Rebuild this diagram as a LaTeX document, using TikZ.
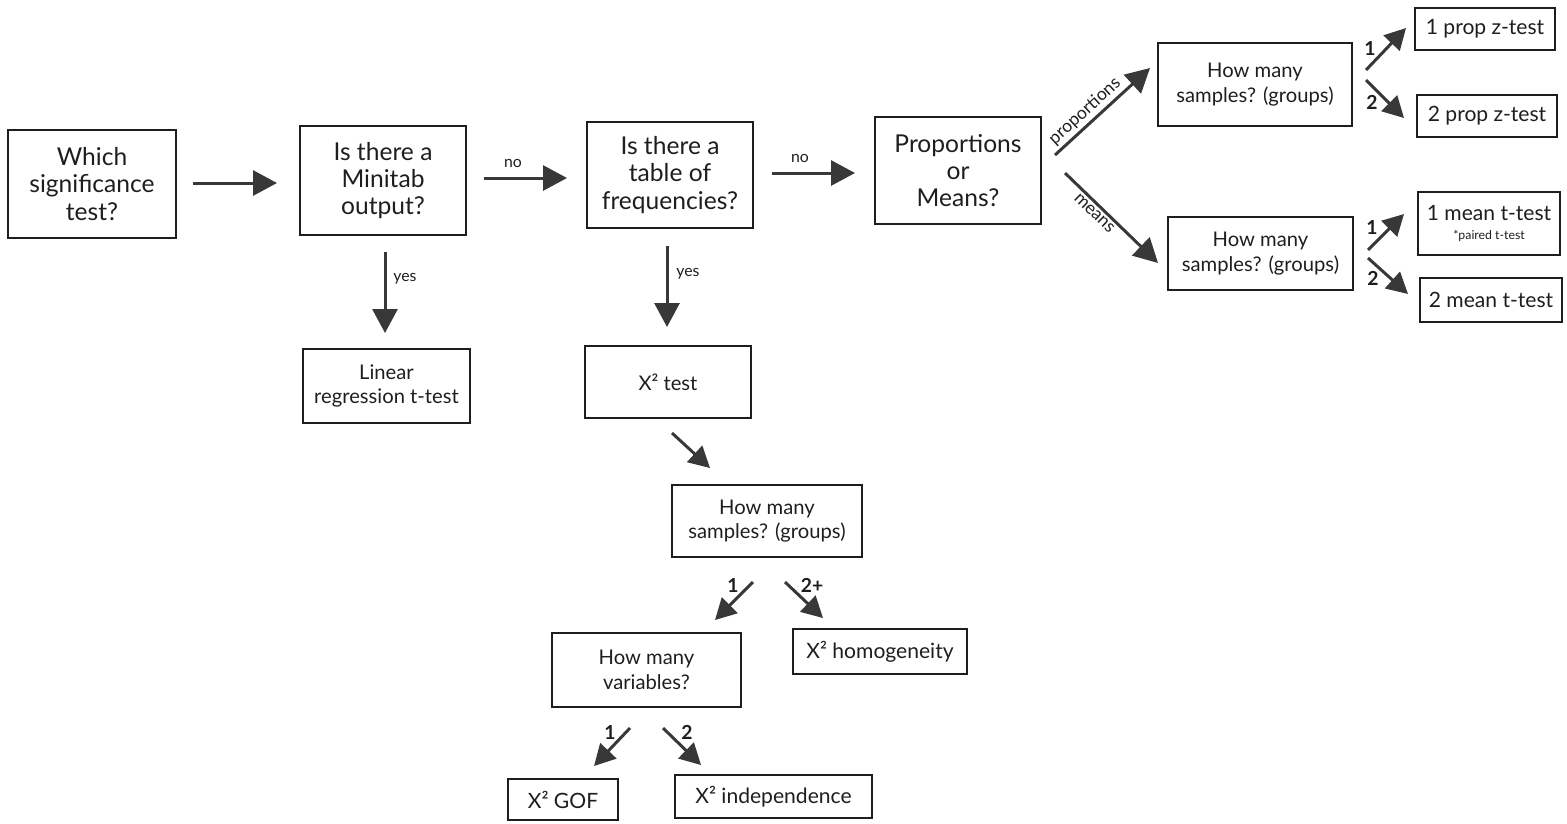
\documentclass[tikz,border=0pt]{standalone}
\usepackage{fontspec}
\setmainfont{Lato}
\usetikzlibrary{arrows.meta}
\definecolor{ink}{HTML}{1E1E1E}
\definecolor{arr}{HTML}{383838}
\begin{document}
\begin{tikzpicture}[x=0.02cm,y=-0.02cm,
  box/.style={draw=ink, line width=1.1pt, text=ink, align=center, inner sep=2pt},
  sz/.style 2 args={minimum width=#1*0.02cm, minimum height=#2*0.02cm},
  big/.style={font=\fontsize{14}{15.5}\selectfont},
  mid/.style={font=\fontsize{11.5}{14}\selectfont},
  res/.style={font=\fontsize{12}{14}\selectfont},
  arw/.style={draw=arr, line width=1.7pt, -{Triangle[length=0.48cm,width=0.5cm]}},
  darw/.style={draw=arr, line width=1.7pt, -{Triangle[length=0.42cm,width=0.44cm]}},
  lbl/.style={text=ink, font=\fontsize{9}{10}\selectfont, inner sep=1pt},
  slbl/.style={text=ink, font=\fontsize{10}{11}\selectfont, inner sep=1.5pt},
  num/.style={text=ink, font=\fontsize{11}{12}\selectfont\bfseries, inner sep=0pt}
]
\useasboundingbox (0,0) rectangle (1567,823);

% boxes
\node[box,big,sz={168}{108}] (n1) at (92,184) {Which\\significance\\test?};
\node[box,big,sz={166}{109}] (n2) at (383,180.5) {Is there a\\Minitab\\output?};
\node[box,big,sz={166}{106}] (n3) at (670,175) {Is there a\\table of\\frequencies?};
\node[box,big,sz={166}{107}] (n4) at (958,170.5) {Proportions\\or\\Means?};
\node[box,mid,sz={194}{83}] (n5) at (1255,84.5) {How many\\samples? (groups)};
\node[box,res,sz={140}{42}] (n6) at (1485,29) {1 prop z-test};
\node[box,res,sz={140}{42}] (n7) at (1487,116) {2 prop z-test};
\node[box,mid,sz={185}{73}] (n8) at (1260.5,253.5) {How many\\samples? (groups)};
\node[box,res,sz={142}{63}] (n9) at (1489,223.5) {1 mean t-test\\[-3pt]{\fontsize{7}{8}\selectfont *paired t-test}};
\node[box,res,sz={142}{44}] (n10) at (1491,300) {2 mean t-test};
\node[box,mid,sz={167}{74}] (n11) at (386.5,386) {Linear\\regression t-test};
\node[box,mid,sz={166}{72}] (n12) at (668,382) {X² test};
\node[box,mid,sz={190}{72}] (n13) at (767,521) {How many\\samples? (groups)};
\node[box,mid,sz={189}{74}] (n14) at (646.5,670) {How many\\variables?};
\node[box,res,sz={174}{45}] (n15) at (880,651.5) {X² homogeneity};
\node[box,res,sz={110}{41}] (n16) at (563,799.5) {X² GOF};
\node[box,res,sz={197}{43}] (n17) at (773.5,796.5) {X² independence};

% arrow end points
\coordinate (a1s) at (193,183);   \coordinate (a1e) at (277,183);
\coordinate (a2s) at (484,178);   \coordinate (a2e) at (567,178);
\coordinate (a3s) at (772,173);   \coordinate (a3e) at (855,173);
\coordinate (y1s) at (385,252);   \coordinate (y1e) at (385,333);
\coordinate (y2s) at (667,246);   \coordinate (y2e) at (667,327);
\coordinate (aps) at (1055,155);  \coordinate (ape) at (1150,68);
\coordinate (ams) at (1065,173);  \coordinate (ame) at (1158,263);
\coordinate (p1s) at (1366,70);   \coordinate (p1e) at (1406,28);
\coordinate (p2s) at (1366,80);   \coordinate (p2e) at (1404,118);
\coordinate (m1s) at (1368,250);  \coordinate (m1e) at (1404,214);
\coordinate (m2s) at (1368,258);  \coordinate (m2e) at (1408,294);
\coordinate (xs) at (672,433);    \coordinate (xe) at (710,468);
\coordinate (c1s) at (753,582);   \coordinate (c1e) at (715,620);
\coordinate (c2s) at (785,582);   \coordinate (c2e) at (823,618);
\coordinate (v1s) at (630,728);   \coordinate (v1e) at (594,766);
\coordinate (v2s) at (663,728);   \coordinate (v2e) at (701,765);

% arrows
\draw[arw] (a1s) -- (a1e);
\draw[arw] (a2s) -- (a2e);
\draw[arw] (a3s) -- (a3e);
\draw[arw] (y1s) -- (y1e);
\draw[arw] (y2s) -- (y2e);
\draw[arw] (aps) -- node[slbl,sloped,above,pos=0.4]{proportions} (ape);
\draw[arw] (ams) -- node[slbl,sloped,below,pos=0.38]{means} (ame);
\draw[darw] (p1s) -- (p1e);
\draw[darw] (p2s) -- (p2e);
\draw[darw] (m1s) -- (m1e);
\draw[darw] (m2s) -- (m2e);
\draw[darw] (xs) -- (xe);
\draw[darw] (c1s) -- (c1e);
\draw[darw] (c2s) -- (c2e);
\draw[darw] (v1s) -- (v1e);
\draw[darw] (v2s) -- (v2e);

% labels
\node[lbl] (lno1) at (513,163) {no};
\node[lbl] (lno2) at (800,158) {no};
\node[lbl] (lyes1) at (405,279) {yes};
\node[lbl] (lyes2) at (688,274) {yes};
\node[num] (lp1) at (1370,48) {1};
\node[num] (lp2) at (1372,102) {2};
\node[num] (lm1) at (1372,227) {1};
\node[num] (lm2) at (1373,278) {2};
\node[num] (lc1) at (733,585) {1};
\node[num] (lc2) at (812,585) {2+};
\node[num] (lv1) at (610,732) {1};
\node[num] (lv2) at (687,732) {2};
\end{tikzpicture}
\end{document}
